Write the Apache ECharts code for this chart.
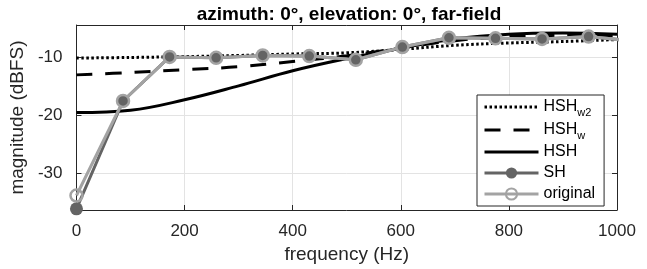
<!DOCTYPE html>
<html>
<head>
<meta charset="utf-8">
<script src="https://cdn.jsdelivr.net/npm/echarts@6/dist/echarts.min.js"></script>
<style>
  html, body { margin: 0; padding: 0; background: #fff; }
  #chart { width: 647px; height: 269px; }
</style>
</head>
<body>
<div id="chart"></div>
<script>
// frequency bins (Hz) of the SH / original responses
const binFreq = [0, 86.13, 172.27, 258.40, 344.53, 430.66, 516.80, 602.93, 689.06, 775.20, 861.33, 947.46, 1033.59];
const shMag   = [-36.2, -17.6, -10.0, -10.15, -9.75, -9.85, -10.5, -8.3, -6.7, -6.8, -6.9, -6.5, -7.3];
const origMag = [-33.9, -17.6, -10.0, -10.15, -9.75, -9.85, -10.5, -8.3, -6.7, -6.8, -6.9, -6.5, -7.3];

// HSH curves, read every 100 Hz
const curveFreq = [0, 100, 200, 300, 400, 500, 600, 700, 800, 900, 1000];
const hshMag    = [-19.6, -19.2, -17.4, -15.0, -12.4, -10.3, -8.5, -6.9, -6.1, -5.9, -6.1];
const hshWMag   = [-13.1, -12.7, -12.2, -11.7, -10.8, -9.8, -8.5, -7.2, -6.5, -6.3, -6.3];
const hshW2Mag  = [-10.2, -10.1, -9.95, -9.75, -9.5, -9.3, -8.7, -8.0, -7.6, -7.35, -7.0];

const axisColor = '#262626';
const font = 'Liberation Sans';
const pair = (xs, ys) => xs.map((x, i) => [x, ys[i]]);

const chart = echarts.init(document.getElementById('chart'));

const option = {
  animation: false,
  backgroundColor: '#fff',
  title: {
    text: 'azimuth: 0°, elevation: 0°, far-field',
    left: 344,
    textAlign: 'center',
    top: 0,
    textStyle: { fontFamily: font, fontSize: 19, fontWeight: 'bold', color: '#000' }
  },
  grid: { left: 72, right: 30, top: 25, bottom: 59 },
  legend: {
    orient: 'vertical',
    left: 477,
    top: 95,
    padding: [1, 9, 2, 6],
    itemGap: 1,
    itemWidth: 54,
    itemHeight: 14,
    borderColor: axisColor,
    borderWidth: 1,
    backgroundColor: '#fff',
    lineStyle: { width: 3 },
    data: [
      { name: 'HSHw2', itemStyle: { opacity: 0 } },
      { name: 'HSHw', itemStyle: { opacity: 0 } },
      { name: 'HSH', itemStyle: { opacity: 0 } },
      'SH',
      'original'
    ],
    formatter: function (name) {
      if (name === 'HSHw2') return 'HSH{sub|w2}';
      if (name === 'HSHw') return 'HSH{sub|w}';
      return name;
    },
    textStyle: {
      fontFamily: font, fontSize: 16, lineHeight: 20, color: '#000',
      rich: { sub: { fontFamily: font, fontSize: 11, lineHeight: 9, padding: [11, 0, 0, 0] } }
    }
  },
  xAxis: [{
    type: 'value', min: 0, max: 1000, interval: 200,
    name: 'frequency (Hz)', nameLocation: 'middle', nameGap: 31,
    nameTextStyle: { fontFamily: font, fontSize: 19, color: axisColor },
    axisLine: { show: true, lineStyle: { color: axisColor, width: 1 } },
    axisTick: { show: true, inside: true, length: 5, lineStyle: { color: axisColor } },
    axisLabel: {
      margin: 13, fontFamily: font, fontSize: 17, color: axisColor,
      formatter: function (v) { return String(v); }
    },
    splitLine: { show: true, lineStyle: { color: '#e3e3e3', width: 1 } }
  }, {
    type: 'value', position: 'top', min: 0, max: 1000, interval: 200,
    axisLine: { show: true, onZero: false, lineStyle: { color: axisColor, width: 1 } },
    axisTick: { show: true, inside: true, length: 5, lineStyle: { color: axisColor } },
    axisLabel: { show: false },
    splitLine: { show: false }
  }],
  yAxis: [{
    type: 'value', min: -36.4, max: -4.5, splitNumber: 3,
    name: 'magnitude (dBFS)', nameLocation: 'middle', nameGap: 48,
    nameTextStyle: { fontFamily: font, fontSize: 19, color: axisColor },
    axisLine: { show: true, lineStyle: { color: axisColor, width: 1 } },
    axisTick: { show: true, inside: true, length: 5, lineStyle: { color: axisColor } },
    axisLabel: {
      margin: 14, fontFamily: font, fontSize: 17, color: axisColor,
      showMinLabel: false, showMaxLabel: false,
      formatter: function (v) { return Math.abs(v % 10) < 1e-6 ? String(v) : ''; }
    },
    splitLine: { show: true, lineStyle: { color: '#e3e3e3', width: 1 } }
  }, {
    type: 'value', position: 'right', min: -36.4, max: -4.5, splitNumber: 3,
    axisLine: { show: true, onZero: false, lineStyle: { color: axisColor, width: 1 } },
    axisTick: { show: true, inside: true, length: 5, lineStyle: { color: axisColor } },
    axisLabel: { show: false },
    splitLine: { show: false }
  }],
  series: [
    {
      name: 'HSHw2', type: 'line', smooth: 0.4, showSymbol: false, symbol: 'none',
      lineStyle: { color: '#000', width: 3, type: [2.5, 2.5] },
      itemStyle: { color: '#000' },
      data: pair(curveFreq, hshW2Mag)
    },
    {
      name: 'HSHw', type: 'line', smooth: 0.4, showSymbol: false, symbol: 'none',
      lineStyle: { color: '#000', width: 3, type: [16, 13] },
      itemStyle: { color: '#000' },
      data: pair(curveFreq, hshWMag)
    },
    {
      name: 'HSH', type: 'line', smooth: 0.4, showSymbol: false, symbol: 'none',
      lineStyle: { color: '#000', width: 3 },
      itemStyle: { color: '#000' },
      data: pair(curveFreq, hshMag)
    },
    {
      name: 'SH', type: 'line', symbol: 'circle', symbolSize: 13,
      lineStyle: { color: '#646464', width: 3 },
      itemStyle: { color: '#646464' },
      data: pair(binFreq, shMag)
    },
    {
      name: 'original', type: 'line', symbol: 'circle', symbolSize: 12,
      lineStyle: { color: '#a3a3a3', width: 3 },
      itemStyle: { color: 'rgba(0,0,0,0)', borderColor: '#a3a3a3', borderWidth: 2.5 },
      data: pair(binFreq, origMag)
    }
  ]
};

chart.setOption(option);
</script>
</body>
</html>
